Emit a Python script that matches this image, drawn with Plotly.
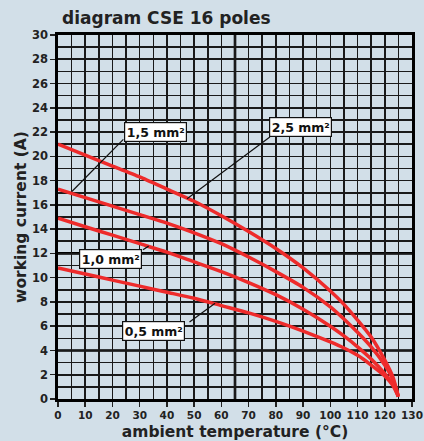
import plotly.graph_objects as go

# ---- data ----
temps = [0, 10, 20, 30, 40, 50, 60, 70, 80, 90, 100, 105, 110, 115, 120, 123, 125]
cur_25 = [21.0, 20.1, 19.2, 18.3, 17.3, 16.3, 15.1, 13.8, 12.4, 10.8, 8.9, 7.8, 6.5, 5.1, 3.2, 1.8, 0.2]
cur_15 = [17.3, 16.6, 15.9, 15.2, 14.5, 13.7, 12.8, 11.7, 10.5, 9.2, 7.6, 6.6, 5.5, 4.3, 2.8, 1.6, 0.2]
cur_10 = [14.9, 14.2, 13.5, 12.8, 12.1, 11.3, 10.5, 9.6, 8.6, 7.4, 6.0, 5.2, 4.3, 3.3, 2.1, 1.2, 0.2]
cur_05 = [10.8, 10.3, 9.8, 9.3, 8.8, 8.3, 7.7, 7.1, 6.4, 5.6, 4.7, 4.2, 3.6, 2.8, 1.9, 1.1, 0.2]

series_names = ["2,5 mm²", "1,5 mm²", "1,0 mm²", "0,5 mm²"]
series_vals = [cur_25, cur_15, cur_10, cur_05]

x_ticks = list(range(0, 131, 10))
y_ticks = list(range(0, 31, 2))

# ---- style ----
BG = "#d2dfe8"
RED = "#ee2b2b"
GRID = "#1a1a1a"
FONT = "DejaVu Sans"

fig = go.Figure()
for name, vals in zip(series_names, series_vals):
    fig.add_trace(go.Scatter(x=temps, y=vals, mode="lines", name=name,
                             line=dict(color=RED, width=3.5, shape="spline", smoothing=0.6),
                             hoverinfo="skip"))

# label boxes (label, box center x, box center y, leader start, leader end)
labels = [
    ("1,5 mm²", 35.7, 22.0, (24.0, 21.4), (5.1, 17.1)),
    ("2,5 mm²", 89.0, 22.4, (77.8, 21.6), (47.4, 16.5)),
    ("1,0 mm²", 19.3, 11.55, (31.2, 12.3), (33.3, 12.6)),
    ("0,5 mm²", 35.1, 5.6, (48.3, 6.35), (57.7, 7.9)),
]
for text, cx, cy, p0, p1 in labels:
    fig.add_shape(type="line", x0=p0[0], y0=p0[1], x1=p1[0], y1=p1[1],
                  line=dict(color="#111", width=1.2), layer="above")
    fig.add_annotation(x=cx, y=cy, text="<b>" + text + "</b>", showarrow=False,
                       font=dict(family=FONT, size=12.5, color="#111"),
                       bgcolor="white", bordercolor="#111", borderwidth=1.2, borderpad=1.5)

# heavier grid lines
for xv in [65]:
    fig.add_shape(type="line", x0=xv, x1=xv, y0=0, y1=30, line=dict(color="#000", width=2.6), layer="below")
for yv in [4, 12]:
    fig.add_shape(type="line", x0=0, x1=130, y0=yv, y1=yv, line=dict(color="#000", width=2.6), layer="below")

axis_common = dict(showgrid=True, gridcolor=GRID, gridwidth=1.6,
                   showline=True, linecolor="#000", linewidth=2.6, mirror=True,
                   ticks="outside", ticklen=5, tickwidth=1.5, tickcolor="#222",
                   zeroline=False, fixedrange=True, automargin=False)

fig.update_xaxes(range=[0, 130], tickvals=x_ticks, ticktext=[str(v) for v in x_ticks],
                 tickfont=dict(family=FONT, size=10.5, color="#222", weight="bold"),
                 minor=dict(dtick=5, showgrid=True, gridcolor=GRID, gridwidth=1.6),
                 title=dict(text="<b>ambient temperature (°C)</b>", standoff=6,
                            font=dict(family=FONT, size=15.5, color="#222")),
                 **axis_common)
fig.update_yaxes(range=[0, 30], tickvals=y_ticks, ticktext=[str(v) for v in y_ticks],
                 tickfont=dict(family=FONT, size=11.5, color="#222", weight="bold"),
                 minor=dict(dtick=1, showgrid=True, gridcolor=GRID, gridwidth=1.6),
                 title=dict(text="<b>working current (A)</b>", standoff=2,
                            font=dict(family=FONT, size=15.5, color="#222")),
                 **axis_common)

fig.update_layout(
    width=424, height=441,
    margin=dict(l=58, r=12, t=35, b=42),
    paper_bgcolor=BG, plot_bgcolor=BG,
    showlegend=False,
    title=dict(text="<b>diagram CSE 16 poles</b>", x=62 / 424, xanchor="left",
               y=1 - 18 / 441, yanchor="middle",
               font=dict(family=FONT, size=17, color="#222")),
)

fig.write_html("out.html",
               config={"displayModeBar": False, "staticPlot": True},
               post_script="document.body.style.margin='0px';"
                           "document.body.style.background='" + BG + "';")
